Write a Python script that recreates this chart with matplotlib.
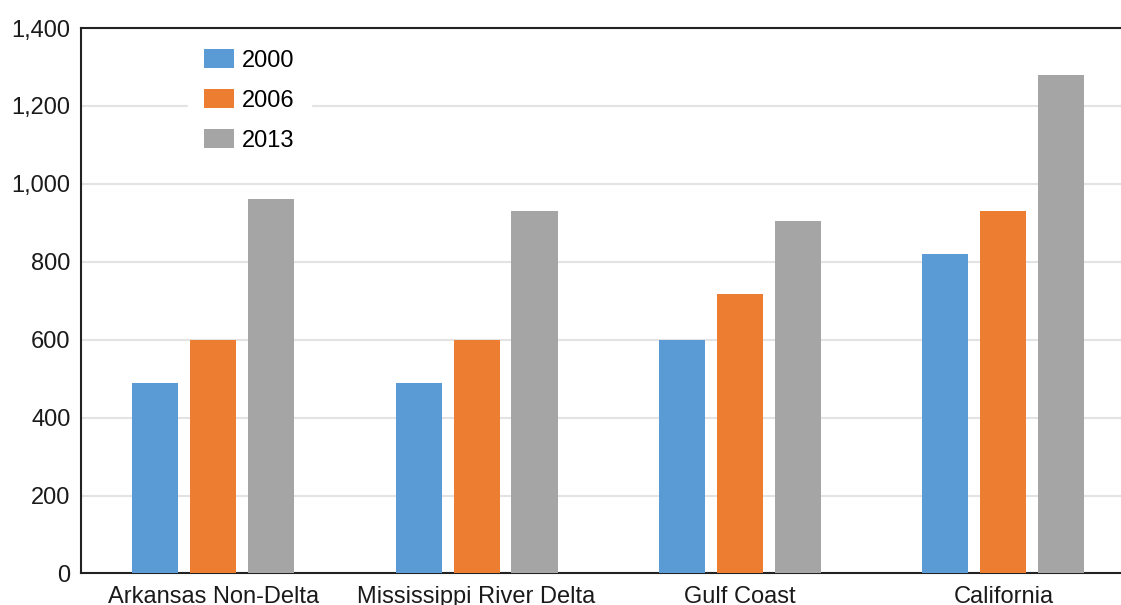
import matplotlib
matplotlib.use("Agg")
import matplotlib.pyplot as plt
import numpy as np

regions = ["Arkansas Non-Delta", "Mississippi River Delta", "Gulf Coast", "California"]
years = ["2000", "2006", "2013"]
values_2000 = [490, 488, 600, 820]
values_2006 = [600, 598, 718, 930]
values_2013 = [960, 930, 905, 1280]
colors = ["#5b9bd5", "#ed7d31", "#a5a5a5"]
yticks = [0, 200, 400, 600, 800, 1000, 1200, 1400]

plt.rcParams["font.family"] = ["Liberation Sans", "DejaVu Sans"]

fig = plt.figure(figsize=(11.21, 6.05), dpi=100)
ax = fig.add_axes([0.0727, 0.0521, 1.0125 - 0.0727, 0.9537 - 0.0521])

x = np.arange(len(regions))
width = 0.175
offset = 0.22
series = [values_2000, values_2006, values_2013]
for i, (vals, c, lab) in enumerate(zip(series, colors, years)):
    ax.bar(x + (i - 1) * offset, vals, width, color=c, label=lab, zorder=3)

ax.set_xlim(-0.5, len(regions) - 0.5)
ax.set_ylim(0, 1400)
ax.set_yticks(yticks)
ax.set_yticklabels([f"{v:,}" for v in yticks])
ax.set_xticks(x)
ax.set_xticklabels(regions)
ax.tick_params(axis="both", length=0, labelsize=17, colors="#1a1a1a")
ax.tick_params(axis="y", pad=8)
ax.tick_params(axis="x", pad=9)

ax.yaxis.grid(True, color="#e3e3e3", linewidth=1.5, zorder=0)
ax.set_axisbelow(True)

for side in ["left", "bottom", "top"]:
    ax.spines[side].set_color("#222222")
    ax.spines[side].set_linewidth(1.5)
ax.spines["right"].set_visible(False)

leg = ax.legend(loc="upper left", bbox_to_anchor=(188 / 1121, 1 - 33 / 605),
                bbox_transform=fig.transFigure, borderaxespad=0,
                fontsize=17, frameon=True, fancybox=False,
                handlelength=1.27, handleheight=0.85, handletextpad=0.34,
                labelspacing=0.74, borderpad=0.68)
leg.get_frame().set_facecolor("white")
leg.get_frame().set_edgecolor("white")
leg.get_frame().set_alpha(1)
leg.set_zorder(5)

fig.savefig("out.png", dpi=100)
